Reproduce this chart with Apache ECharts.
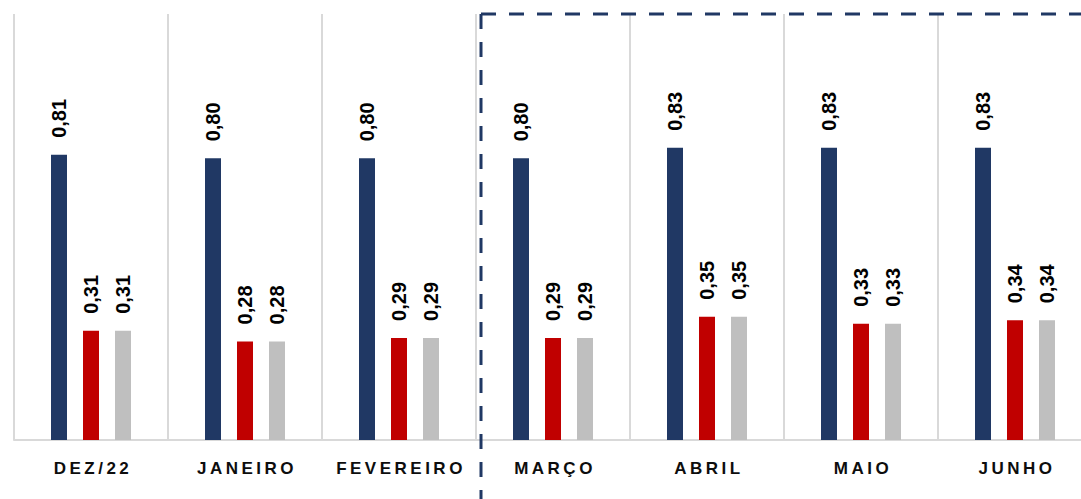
<!DOCTYPE html>
<html>
<head>
<meta charset="utf-8">
<script src="https://cdn.jsdelivr.net/npm/echarts@6/dist/echarts.min.js"></script>
<style>
	html, body { margin: 0; padding: 0; background: #fff; }
	#chart { width: 1081px; height: 499px; }
</style>
</head>
<body>
<div id="chart"></div>
<script>
var categories = ['DEZ/22', 'JANEIRO', 'FEVEREIRO', 'MARÇO', 'ABRIL', 'MAIO', 'JUNHO'];
var serieAzul = [0.81, 0.80, 0.80, 0.80, 0.83, 0.83, 0.83];
var serieVermelha = [0.31, 0.28, 0.29, 0.29, 0.35, 0.33, 0.34];
var serieCinza = [0.31, 0.28, 0.29, 0.29, 0.35, 0.33, 0.34];
var inicioDestaque = 'MARÇO';

var FONT = '"Liberation Sans", Arial, sans-serif';

function fmtVal(p){
	return p.value.toFixed(2).replace('.', ',');
}

function makeSerie(name, data, color){
	return {
		name: name,
		type: 'bar',
		data: data,
		barWidth: 16,
		barGap: '100%',
		itemStyle: { color: color },
		label: {
			show: true,
			position: 'top',
			rotate: 90,
			align: 'left',
			verticalAlign: 'middle',
			distance: 17,
			formatter: fmtVal,
			color: '#000',
			fontFamily: FONT,
			fontWeight: 'bold',
			fontSize: 20
		}
	};
}

var chart = echarts.init(document.getElementById('chart'), null, { renderer: 'svg' });

var option = {
	animation: false,
	grid: { left: 14, top: 14, width: 1078, height: 426, outerBoundsMode: 'none', containLabel: false },
	xAxis: {
		type: 'category',
		data: categories,
		axisLine: { lineStyle: { color: '#d9d9d9', width: 2 } },
		axisTick: { show: false },
		splitLine: { show: true, lineStyle: { color: '#d9d9d9', width: 2 } },
		axisLabel: {
			margin: 20,
			color: '#0d0d0d',
			fontFamily: FONT,
			fontWeight: 'bold',
			fontSize: 17
		}
	},
	yAxis: {
		type: 'value',
		min: 0,
		max: 1.21,
		show: false,
		splitLine: { show: false }
	},
	series: [
		makeSerie('A', serieAzul, '#203864'),
		makeSerie('B', serieVermelha, '#c00000'),
		makeSerie('C', serieCinza, '#bfbfbf')
	]
};

chart.setOption(option);

// caixa tracejada a partir de MARÇO
var idx = categories.indexOf(inicioDestaque);
var c1 = chart.convertToPixel({ xAxisIndex: 0 }, categories[idx]);
var c0 = chart.convertToPixel({ xAxisIndex: 0 }, categories[idx - 1]);
var xBox = (c0 + c1) / 2 + 5;
var yBox = chart.convertToPixel({ yAxisIndex: 0 }, 1.21);
var dash = { stroke: '#203864', lineWidth: 3, lineDash: [15, 13] };

chart.setOption({
	graphic: [
		{ type: 'line', shape: { x1: xBox, y1: yBox, x2: xBox, y2: 520 }, style: dash, z: 10 },
		{ type: 'line', shape: { x1: xBox, y1: yBox, x2: 1100, y2: yBox }, style: dash, z: 10 }
	]
});

// espacamento entre letras nos rotulos do eixo
var texts = document.querySelectorAll('#chart text');
for (var i = 0; i < texts.length; i++) {
	if (categories.indexOf(texts[i].textContent) > -1) {
		texts[i].setAttribute('letter-spacing', '3.5');
		texts[i].setAttribute('dx', '2');
	}
}
</script>
</body>
</html>
